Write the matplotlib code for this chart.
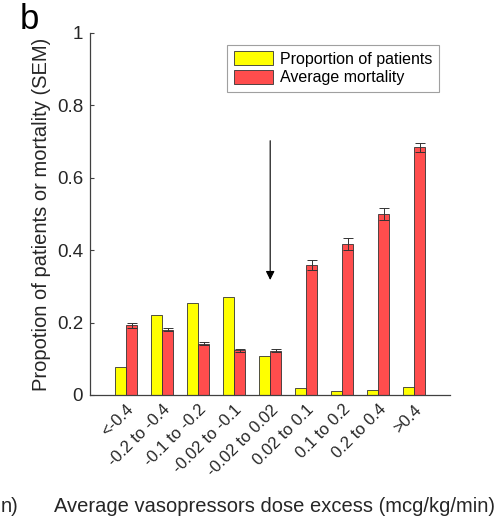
import numpy as np
import matplotlib
matplotlib.use('Agg')
import matplotlib.pyplot as plt

plt.rcParams['font.family'] = ['Liberation Sans', 'DejaVu Sans']

#==============================================================================
# data
#==============================================================================

categories = ['<-0.4', '-0.2 to -0.4', '-0.1 to -0.2', '-0.02 to -0.1',
              '-0.02 to 0.02', '0.02 to 0.1', '0.1 to 0.2', '0.2 to 0.4', '>0.4']
proportion = [0.078, 0.220, 0.255, 0.271, 0.108, 0.018, 0.011, 0.014, 0.021]
mortality = [0.192, 0.180, 0.141, 0.124, 0.122, 0.358, 0.417, 0.500, 0.684]
mortality_sem = [0.007, 0.004, 0.004, 0.004, 0.004, 0.014, 0.016, 0.017, 0.013]

# arrow marking the "no excess" bin
arrow_x = 5
arrow_top = 0.71
arrow_tip = 0.31

#==============================================================================
# figure
#==============================================================================

fig = plt.figure(figsize=(5.01, 5.19), dpi=100)
ax = fig.add_axes([0.18, 0.239, 0.7186, 0.6975])

x = np.arange(1, len(categories) + 1)
w = 0.3
grey = '#404040'
txt = '#262626'

ax.bar(x - w / 2, proportion, w, color='#FFFF00', edgecolor='#333333',
       linewidth=0.6, label='Proportion of patients')
ax.bar(x + w / 2, mortality, w, color='#FF4D4D', edgecolor='#333333',
       linewidth=0.6, label='Average mortality')
ax.errorbar(x + w / 2, mortality, yerr=mortality_sem, fmt='none',
            ecolor='#333333', elinewidth=0.7, capsize=3.5, capthick=0.7)

ax.annotate('', xy=(arrow_x, arrow_tip), xytext=(arrow_x, arrow_top),
            arrowprops=dict(arrowstyle='-|>', color='black', lw=0.8,
                            mutation_scale=13))

ax.set_xlim(0, 10)
ax.set_ylim(0, 1)
ax.set_xticks(x)
ax.set_xticklabels(categories, rotation=45, ha='right', rotation_mode='anchor',
                   fontsize=12, color=txt)
ax.set_yticks([0, 0.2, 0.4, 0.6, 0.8, 1])
ax.set_yticklabels(['0', '0.2', '0.4', '0.6', '0.8', '1'], fontsize=13.5,
                   color=txt)
ax.tick_params(axis='both', direction='in', colors=grey, labelcolor=txt,
               length=3, width=0.8)
ax.tick_params(axis='y', pad=5)
ax.tick_params(axis='x', length=0, pad=5)

for side in ['top', 'right']:
    ax.spines[side].set_visible(False)
for side in ['left', 'bottom']:
    ax.spines[side].set_color(grey)
    ax.spines[side].set_linewidth(0.9)

ax.set_ylabel('Propotion of patients or mortality (SEM)', fontsize=14.5,
              color=txt, labelpad=4)
fig.text(0.548, 0.025, 'Average vasopressors dose excess (mcg/kg/min)',
         ha='center', va='center', fontsize=14.5, color=txt)
fig.text(0.002, 0.025, 'n)', ha='left', va='center', fontsize=14.5,
         color=txt)
fig.text(0.04, 0.962, 'b', ha='left', va='center', fontsize=25,
         color='black')

leg = ax.legend(loc='upper right', bbox_to_anchor=(0.99, 0.99), fontsize=11.5,
                frameon=True, fancybox=False, edgecolor='#888888',
                handlelength=2.5, handleheight=1.0, borderpad=0.4,
                labelspacing=0.2, handletextpad=0.4)
leg.get_frame().set_linewidth(0.8)

plt.savefig('out.png', dpi=100)
